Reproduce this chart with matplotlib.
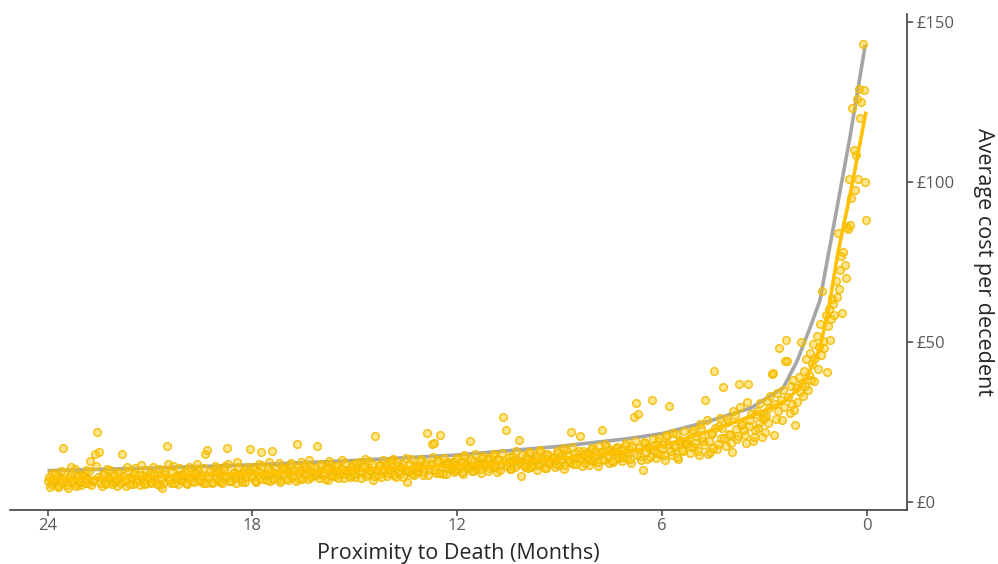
import numpy as np
import matplotlib
matplotlib.use("Agg")
import matplotlib.pyplot as plt

plt.rcParams['font.family'] = ['Open Sans', 'DejaVu Sans']

# average daily cost, even days from 730 to 92 days before death
cost_even = [
    6.6, 4.8, 9.1, 5.9, 7.7, 5.1, 9.8, 17.0, 6.3, 4.5, 8.2, 6.8, 10.4, 5.6, 8.4,
    5.4, 8.0, 10.1, 6.1, 12.8, 6.7, 15.0, 22.0, 15.6, 4.9, 8.7, 5.7, 7.5, 9.9, 6.4,
    6.2, 5.0, 9.2, 15.0, 7.0, 5.1, 9.6, 7.8, 5.5, 10.7, 7.3, 5.3, 8.4, 6.1, 10.0,
    7.4, 5.8, 11.0, 6.6, 8.9, 5.4, 4.4, 9.9, 17.5, 7.1, 5.9, 11.3, 8.2, 5.5, 8.6,
    6.8, 9.4, 5.7, 11.1, 7.8, 6.2, 9.0, 10.4, 6.5, 5.9, 15.0, 16.2, 8.1, 6.0, 9.8,
    7.2, 10.6, 6.3, 8.5, 11.4, 17.0, 6.7, 7.9, 9.3, 5.8, 10.9, 7.3, 9.1, 6.4, 11.0,
    16.5, 7.7, 9.9, 6.3, 11.8, 15.6, 7.1, 8.7, 10.5, 6.6, 16.0, 9.2, 7.5, 12.1, 6.9,
    8.3, 10.7, 6.9, 11.6, 7.9, 10.0, 18.0, 7.1, 12.4, 8.8, 10.3, 7.3, 11.2, 8.5, 9.5,
    17.5, 7.5, 11.7, 8.9, 10.6, 7.0, 12.0, 9.3, 8.1, 11.4, 8.7, 13.0, 7.4, 10.1, 9.7,
    8.3, 11.8, 7.8, 10.8, 12.6, 9.0, 11.1, 8.0, 12.9, 9.8, 7.0, 20.6, 8.6, 11.5, 9.4,
    10.3, 8.1, 12.4, 9.1, 13.3, 7.8, 11.2, 8.8, 11.9, 10.1, 6.2, 9.5, 13.6, 8.4, 10.9,
    9.8, 12.7, 8.6, 11.6, 21.5, 10.2, 18.0, 18.6, 9.2, 13.2, 21.0, 8.8, 12.1, 10.6, 11.8,
    11.0, 9.3, 13.6, 10.4, 12.6, 8.8, 14.0, 11.4, 19.0, 9.7, 12.9, 10.7, 12.2, 9.0, 14.3,
    11.7, 9.8, 13.8, 11.2, 15.0, 9.5, 13.2, 11.5, 26.5, 22.5, 12.6, 10.2, 14.5, 10.8, 13.0,
    19.4, 8.0, 11.6, 14.2, 10.5, 15.3, 11.5, 13.3, 9.9, 15.8, 12.2, 13.7, 10.7, 14.8, 12.6,
    12.8, 10.9, 15.9, 11.6, 14.6, 10.4, 16.4, 13.2, 22.0, 11.8, 15.3, 13.7, 20.6, 11.2, 14.9,
    13.9, 11.6, 16.5, 12.8, 15.8, 11.2, 15.0, 22.5, 13.2, 17.2, 12.1, 15.5, 12.5, 16.9, 14.3,
    15.1, 12.9, 17.8, 13.8, 16.6, 12.2, 26.5, 31.0, 27.5, 14.4, 10.0, 18.3, 13.3, 17.0, 32.0,
    16.2, 13.9, 19.2, 15.1, 18.0, 13.0, 20.5, 30.0, 14.7, 17.6, 21.2, 13.6, 18.9, 15.8, 18.7,
    18.3, 15.4, 21.8, 17.2, 20.6, 14.8, 23.2, 19.0, 32.0, 15.0, 15.6, 21.4, 41.0, 16.5, 23.9,
    20.1, 36.0, 17.5, 24.9, 20.8, 15.6, 27.1, 19.6, 37.0, 24.0, 22.6, 18.6, 37.0, 25.7, 19.0,
    22.5, 28.3, 24.6, 20.4, 26.7,
]
# odd days from 729 to 91 days before death
cost_odd = [
    7.9, 5.5, 6.9, 8.8, 4.7, 7.2, 6.0, 9.4, 5.3, 7.6, 10.9, 6.5, 5.0, 8.1, 6.2,
    8.3, 6.0, 7.1, 9.6, 5.2, 6.8, 11.4, 7.7, 5.8, 8.9, 6.3, 10.3, 7.4, 5.5, 8.6,
    7.0, 9.3, 5.9, 8.1, 6.6, 10.8, 5.6, 7.5, 9.0, 6.3, 8.5, 11.6, 6.9, 5.7, 7.9,
    9.1, 6.4, 8.3, 5.6, 10.2, 7.3, 6.1, 8.7, 11.8, 6.8, 9.5, 5.9, 7.6, 10.5, 7.0,
    8.6, 5.9, 10.1, 7.4, 6.5, 9.2, 12.0, 6.9, 8.0, 10.7, 5.8, 7.7, 9.6, 6.4, 11.3,
    9.4, 7.0, 6.1, 10.3, 8.2, 11.9, 6.6, 9.0, 7.5, 12.4, 8.8, 6.2, 10.0, 7.8, 9.7,
    8.0, 10.8, 6.5, 9.3, 7.4, 11.3, 8.4, 6.8, 12.6, 9.6, 7.2, 10.4, 8.9, 6.4, 11.0,
    10.2, 7.6, 9.0, 12.2, 8.1, 6.7, 10.9, 9.8, 7.3, 11.7, 8.6, 13.1, 7.9, 10.5, 8.3,
    9.2, 11.9, 8.4, 7.2, 10.8, 12.7, 8.0, 9.9, 11.3, 7.6, 10.4, 8.8, 12.3, 9.5, 7.8,
    10.9, 8.7, 12.2, 9.6, 7.5, 11.4, 13.4, 8.9, 10.1, 12.0, 8.2, 9.9, 11.7, 7.7, 13.0,
    11.6, 9.0, 10.4, 13.2, 8.5, 12.5, 9.8, 11.1, 7.9, 13.8, 10.0, 12.0, 8.7, 11.4, 9.5,
    10.9, 13.5, 9.4, 12.3, 8.4, 11.7, 14.2, 10.0, 12.9, 9.1, 11.3, 13.9, 8.9, 12.5, 10.4,
    12.6, 10.1, 13.9, 11.3, 9.4, 14.6, 12.0, 10.7, 13.3, 9.8, 15.1, 11.6, 10.3, 13.7, 12.3,
    13.3, 10.6, 12.0, 14.8, 11.1, 13.6, 9.9, 15.4, 12.7, 11.4, 14.1, 10.3, 13.0, 15.9, 11.8,
    12.4, 14.6, 11.0, 13.5, 15.6, 10.8, 12.9, 14.3, 11.7, 16.2, 13.1, 10.5, 14.9, 12.1, 13.8,
    14.2, 12.0, 15.4, 13.1, 16.8, 11.5, 14.7, 12.6, 17.3, 13.9, 11.9, 15.8, 13.4, 16.1, 12.3,
    15.2, 13.0, 16.8, 14.1, 12.4, 17.5, 15.6, 13.6, 18.0, 14.5, 16.3, 12.8, 15.9, 17.1, 13.9,
    16.4, 14.2, 18.3, 15.3, 13.5, 17.6, 19.2, 14.8, 16.9, 13.1, 18.7, 15.7, 17.3, 14.0, 19.6,
    17.9, 15.4, 19.9, 16.6, 14.6, 20.8, 18.2, 15.9, 21.6, 17.1, 14.2, 19.5, 16.3, 22.3, 18.5,
    19.8, 17.3, 22.5, 18.6, 16.1, 24.3, 20.4, 17.9, 25.6, 19.1, 21.7, 16.8, 23.0, 18.2, 26.4,
    23.2, 19.9, 26.0, 21.4, 18.3, 28.3, 22.9, 20.6, 29.8, 24.5, 21.0, 31.2, 23.7, 27.4, 20.2,
    27.6, 23.1, 30.9, 25.8, 22.0,
]
# daily from 90 days to 1 day before death
cost_near = [
    27.0, 31.5, 24.8, 29.3, 33.0, 40.0, 40.2, 21.0, 30.6, 26.1,
    34.2, 28.4, 48.0, 31.9, 25.7, 35.1, 29.8, 44.0, 50.6, 44.2,
    32.7, 27.9, 36.4, 30.5, 38.0, 28.8, 24.0, 35.6, 31.2, 39.1,
    34.5, 50.0, 37.2, 33.1, 41.0, 36.3, 44.6, 35.0, 39.8, 46.5,
    38.0, 43.2, 49.5, 37.9, 45.1, 52.0, 41.7, 48.3, 55.6, 46.0,
    66.0, 50.2, 48.0, 58.4, 40.6, 55.0, 60.3, 50.6, 57.1, 63.5,
    62.0, 58.5, 69.2, 64.0, 84.0, 66.7, 72.4, 77.0, 59.0, 78.0,
    74.0, 70.0, 86.0, 85.2, 101.0, 86.5, 95.0, 123.0, 110.0, 97.4,
    108.3, 126.0, 101.0, 129.0, 120.0, 125.0, 143.0, 128.7, 100.0, 88.0,
]
days_even = np.arange(730, 90, -2)
days_odd = np.arange(729, 90, -2)
days_near = np.arange(90, 0, -1)

# fitted curves
grey_months = [24, 21, 18, 15, 12, 9, 7, 6, 4.7, 3.4, 2.46, 2.05, 1.65, 1.38, 1.0, 0.5, 0.05]
grey_cost = [9.8, 10.6, 11.6, 13.0, 14.7, 17.4, 19.8, 21.4, 25.0, 29.4, 35.6, 44.0, 55.0, 63.0, 85.0, 114.0, 143.0]
yellow_months = [24, 21, 18, 15, 12, 9, 7, 6, 4.7, 3.7, 2.75, 2.35, 2.05, 1.76, 1.38, 1.1, 0.85, 0.44, 0.03]
yellow_cost = [7.0, 7.9, 8.9, 10.0, 11.4, 13.5, 15.8, 17.5, 21.9, 25.6, 29.7, 32.0, 35.0, 39.0, 48.0, 62.0, 78.0, 99.0, 122.0]

x_ticks = [24, 18, 12, 6, 0]
y_ticks = [0, 50, 100, 150]
y_labels = ['£0', '£50', '£100', '£150']

days = np.concatenate([days_even, days_odd, days_near])
cost = np.array(cost_even + cost_odd + cost_near)
months = days / 30.42

fig = plt.figure(figsize=(9.98, 5.64), dpi=100)
ax = fig.add_axes([0.010, 0.0957, 0.8988, 0.8794])

ax.plot(grey_months, grey_cost, color='#a6a6a6', lw=2.6, zorder=1, solid_capstyle='butt')
ax.scatter(months, cost, s=30, facecolor=(1.0, 0.78, 0.0, 0.45),
           edgecolor=(0.95, 0.73, 0.0, 0.85), linewidth=1.1, zorder=2)
ax.plot(yellow_months, yellow_cost, color='#ffc000', lw=2.6, zorder=3, solid_capstyle='butt')

ax.set_xlim(25.1, -1.17)
ax.set_ylim(-2.5, 152.5)
ax.set_xticks(x_ticks)
ax.set_xticklabels([str(t) for t in x_ticks])
ax.yaxis.tick_right()
ax.set_yticks(y_ticks)
ax.set_yticklabels(y_labels)

for s in ['top', 'left']:
    ax.spines[s].set_visible(False)
for s in ['bottom', 'right']:
    ax.spines[s].set_color('#404040')
    ax.spines[s].set_linewidth(1.2)

ax.tick_params(axis='both', colors='#404040', length=4, width=1.1,
               labelsize=12, labelcolor='#595959')
ax.tick_params(axis='y', pad=3)
ax.tick_params(axis='x', pad=2)

ax.set_xlabel('Proximity to Death (Months)', fontsize=15.5, color='#262626', labelpad=6.5)
fig.text(0.985, 0.535, 'Average cost per decedent', fontsize=15.5, color='#262626',
         rotation=270, ha='center', va='center')

fig.savefig('out.png', dpi=100)
